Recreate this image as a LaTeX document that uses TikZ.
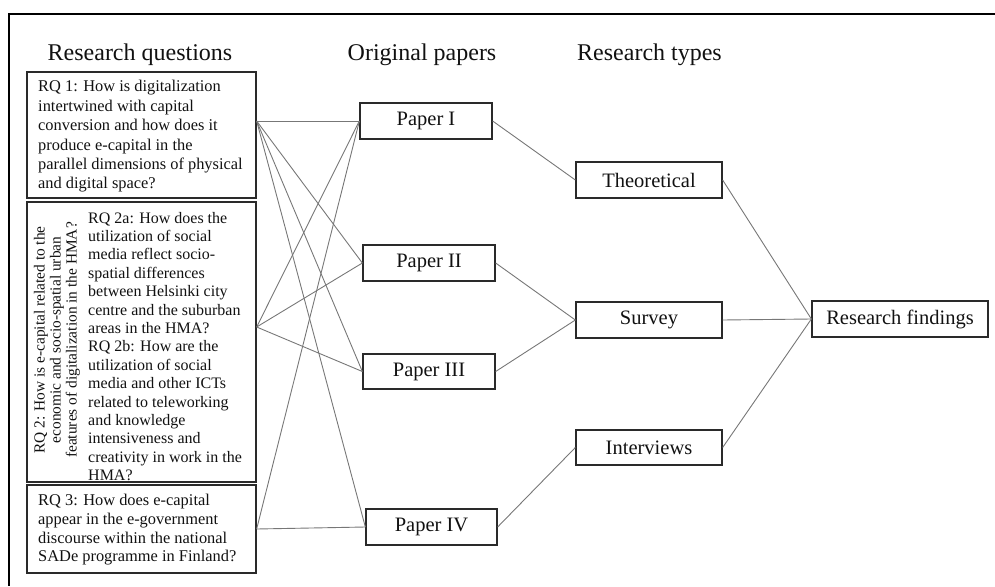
\documentclass[tikz,border=0pt]{standalone}
\usepackage{fontspec}
\setmainfont{Liberation Serif}
\definecolor{boxline}{HTML}{2A2A2A}
\definecolor{conline}{HTML}{777777}
\definecolor{txt}{HTML}{111111}
\begin{document}
\begin{tikzpicture}[x=1pt,y=-1pt,
  box/.style={draw=boxline,line width=1.3pt,rectangle,inner sep=0pt,text=txt,font=\fontsize{20.5}{24}\selectfont},
  rqtext/.style={inner sep=0pt,align=left,text=txt,anchor=west},
  title/.style={inner sep=0pt,text=txt,font=\fontsize{24}{28}\selectfont},
  con/.style={draw=conline,line width=0.9pt}]
\useasboundingbox (0,0) rectangle (995,586);
% frame (only top and left visible)
\draw[line width=2.3pt,black] (995,14) -- (9,14) -- (9,586);
% titles
\node[title] (t1) at (140,55) {Research questions};
\node[title] (t2) at (422,55) {Original papers};
\node[title,anchor=west] (t3) at (577,55) {Research types};
% research question boxes
\node[box,minimum width=229pt,minimum height=126pt] (rq1) at (141.5,135) {};
\node[rqtext,font=\fontsize{16.4}{19.4}\selectfont] (rq1t) at (38,136.5)
  {RQ 1: How is digitalization\\intertwined with capital\\conversion and how does it\\produce e-capital in the\\parallel dimensions of physical\\and digital space?};
\node[box,minimum width=229pt,minimum height=280pt] (rq2) at (141.5,342) {};
\node[inner sep=0pt,align=center,text=txt,rotate=90,font=\fontsize{15.4}{16}\selectfont] (rq2m) at (57,340)
  {RQ 2: How is e-capital related to the\\economic and socio-spatial urban\\features of digitalization in the HMA?};
\node[rqtext,font=\fontsize{16}{18.4}\selectfont] (rq2t) at (88,346.5)
  {RQ 2a: How does the\\utilization of social\\media reflect socio-\\spatial differences\\between Helsinki city\\centre and the suburban\\areas in the HMA?\\RQ 2b: How are the\\utilization of social\\media and other ICTs\\related to teleworking\\and knowledge\\intensiveness and\\creativity in work in the\\HMA?};
\node[box,minimum width=229pt,minimum height=88pt] (rq3) at (141.5,529) {};
\node[rqtext,font=\fontsize{16.4}{18.7}\selectfont] (rq3t) at (38,530)
  {RQ 3: How does e-capital\\appear in the e-government\\discourse within the national\\SADe programme in Finland?};
% papers
\node[box,minimum width=132pt,minimum height=36pt] (p1) at (426,121) {Paper I};
\node[box,minimum width=132pt,minimum height=36pt] (p2) at (429,263) {Paper II};
\node[box,minimum width=132pt,minimum height=35pt] (p3) at (429,371.5) {Paper III};
\node[box,minimum width=131pt,minimum height=36pt] (p4) at (431.5,527) {Paper IV};
% research types
\node[box,minimum width=146pt,minimum height=36pt] (th) at (649,180) {Theoretical};
\node[box,minimum width=146pt,minimum height=36pt] (su) at (649,320) {Survey};
\node[box,minimum width=146pt,minimum height=35pt] (iv) at (649,447.5) {Interviews};
\node[box,minimum width=176pt,minimum height=36pt] (rf) at (900,319) {Research findings};
% connector origins
\coordinate (r1) at (rq1.east |- p1.west);
\coordinate (r2) at ([yshift=15pt]rq2.east);
\coordinate (r3) at (rq3.east);
% connectors
\draw[con] (r1) -- (p1.west);
\draw[con] (r1) -- (p2.west);
\draw[con] (r1) -- (p3.west);
\draw[con] (r1) -- (p4.west);
\draw[con] (r2) -- (p1.west);
\draw[con] (r2) -- (p2.west);
\draw[con] (r2) -- (p3.west);
\draw[con] (r3) -- (p1.west);
\draw[con] (r3) -- (p4.west);
\draw[con] (p1.east) -- (th.west);
\draw[con] (p2.east) -- (su.west);
\draw[con] (p3.east) -- (su.west);
\draw[con] (p4.east) -- (iv.west);
\draw[con] (th.east) -- (rf.west);
\draw[con] (su.east) -- (rf.west);
\draw[con] (iv.east) -- (rf.west);
\end{tikzpicture}
\end{document}
